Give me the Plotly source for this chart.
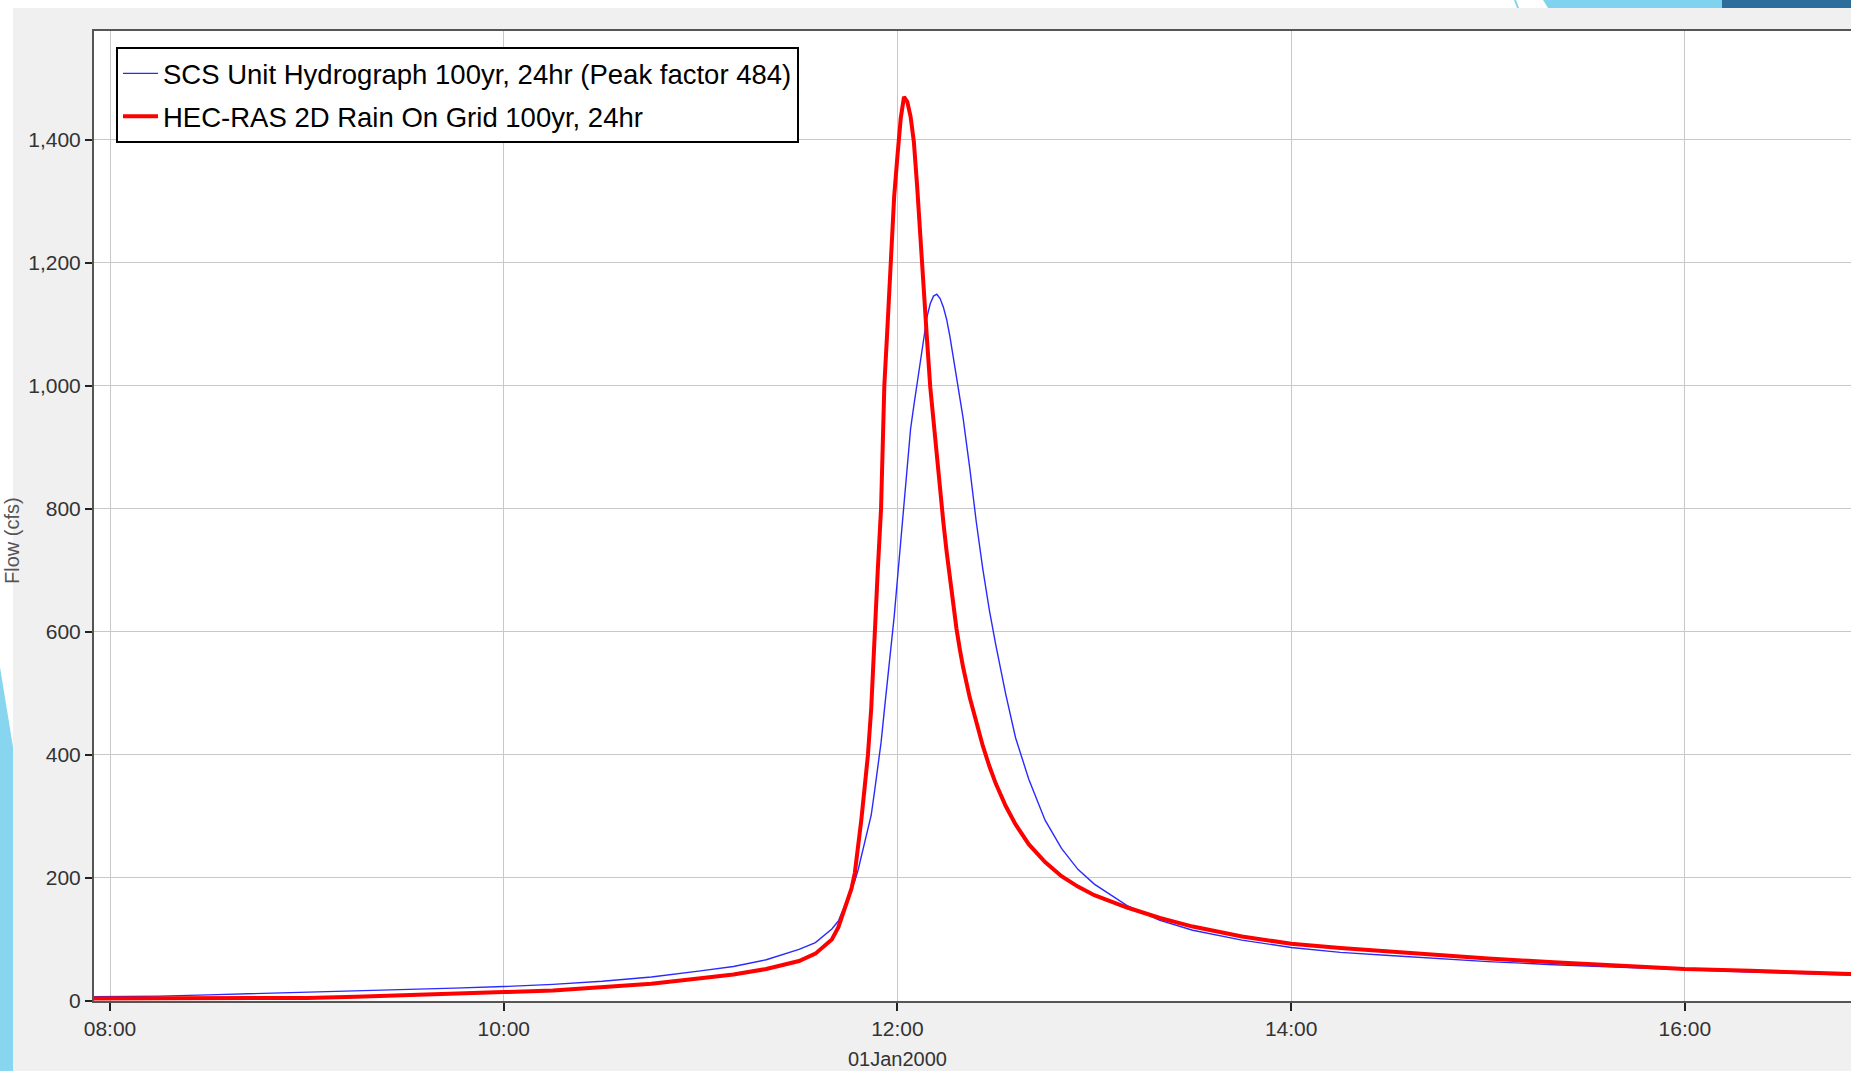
import plotly.graph_objects as go

# ---------------- data ----------------
DAY = "2000-01-01"
TIMES = ["07:55", "08:00", "08:15", "08:30", "08:45", "09:00", "09:15", "09:30", "09:45", "10:00",
         "10:15", "10:30", "10:45", "11:00", "11:10", "11:20", "11:30", "11:35", "11:40", "11:42",
         "11:44", "11:45", "11:46", "11:47", "11:48", "11:49", "11:50", "11:51", "11:52", "11:53",
         "11:54", "11:55", "11:56", "11:57", "11:58", "11:59", "12:00", "12:01", "12:02", "12:03",
         "12:04", "12:05", "12:06", "12:07", "12:08", "12:09", "12:10", "12:11", "12:12", "12:13",
         "12:14", "12:15", "12:16", "12:17", "12:18", "12:19", "12:20", "12:22", "12:24", "12:26",
         "12:28", "12:30", "12:33", "12:36", "12:40", "12:45", "12:50", "12:55", "13:00", "13:10",
         "13:20", "13:30", "13:45", "14:00", "14:15", "14:30", "14:45", "15:00", "15:20", "15:40",
         "16:00", "16:20", "16:40", "16:51"]

SCS_FLOW = [7, 7, 8, 10, 12, 14, 17, 19, 21, 23.5,
            27, 32, 39, 49, 56, 67, 84, 95, 117, 130,
            155, 170, 183, 195, 213, 235, 257, 280, 302, 340,
            380, 420, 472, 520, 570, 625, 686, 745, 803, 870,
            930, 968, 1005, 1044, 1080, 1112, 1134, 1146, 1149, 1142,
            1128, 1108, 1080, 1046, 1011, 979, 948, 868, 780, 703,
            636, 578, 499, 428, 361, 294, 248, 214, 190, 155,
            131, 115, 99, 87, 79, 74, 69, 64, 59, 55,
            50, 47, 44, 42]

RAS_FLOW = [4, 4, 4, 4, 4, 5, 7, 9, 12, 14.5,
            17, 22, 28, 37, 43, 52, 65, 77, 100, 120,
            151, 165, 183, 208, 250, 295, 347, 400, 475, 600,
            700, 800, 1000, 1100, 1200, 1308, 1374, 1435, 1470, 1462,
            1438, 1397, 1325, 1236, 1157, 1076, 998, 940, 885, 830,
            778, 730, 685, 643, 605, 572, 543, 494, 452, 415,
            382, 353, 317, 287, 255, 226, 203, 186, 172, 152,
            135, 121, 105, 93, 86, 80, 75, 69, 63, 58,
            52, 49, 46, 44]

SCS_NAME = "SCS Unit Hydrograph 100yr, 24hr (Peak factor 484)"
RAS_NAME = "HEC-RAS 2D Rain On Grid 100yr, 24hr"
Y_TICKS = [0, 200, 400, 600, 800, 1000, 1200, 1400]
X_RANGE = ["2000-01-01 07:55:07", "2000-01-01 16:50:38"]
Y_RANGE = [0, 1577]
DATE_LABEL = "01Jan2000"
Y_TITLE = "Flow (cfs)"

x_vals = [f"{DAY} {t}" for t in TIMES]

# ---------------- figure ----------------
W, H = 1851, 1071
L, R, T, B = 94, 0, 31, 70
PW, PH = W - L - R, H - T - B


def px_x(p):
    return (p - L) / PW


def px_y(p):
    return (H - B - p) / PH


fig = go.Figure()
fig.add_trace(go.Scatter(x=x_vals, y=SCS_FLOW, mode="lines", name=SCS_NAME,
                         legendgroup="a",
                         line=dict(color="#2a2aff", width=1.4)))
fig.add_trace(go.Scatter(x=x_vals, y=RAS_FLOW, mode="lines", name=RAS_NAME,
                         legendgroup="b",
                         line=dict(color="#ff0000", width=4)))

FONT = "Liberation Sans, Arial, sans-serif"

shapes = [
    # grey chart panel
    dict(type="rect", xref="paper", yref="paper", layer="below",
         x0=px_x(13), x1=px_x(W + 5), y0=px_y(H + 5), y1=px_y(8),
         fillcolor="#f0f0f0", line=dict(width=0)),
    # white plotting area
    dict(type="rect", xref="paper", yref="paper", layer="below",
         x0=0, x1=1, y0=0, y1=1, fillcolor="white", line=dict(width=0)),
    # left slide decoration
    dict(type="path", xref="paper", yref="paper", layer="below",
         path=f"M {px_x(0)} {px_y(667)} L {px_x(13)} {px_y(747)} L {px_x(13)} {px_y(H + 5)} "
              f"L {px_x(0)} {px_y(H + 5)} Z",
         fillcolor="#88d5ef", line=dict(width=0)),
    # top right slide decoration
    dict(type="path", xref="paper", yref="paper", layer="below",
         path=f"M {px_x(1543)} {px_y(0)} L {px_x(1722)} {px_y(0)} L {px_x(1722)} {px_y(8)} "
              f"L {px_x(1548)} {px_y(8)} Z",
         fillcolor="#7fd3ee", line=dict(width=0)),
    dict(type="path", xref="paper", yref="paper", layer="below",
         path=f"M {px_x(1514)} {px_y(0)} L {px_x(1516)} {px_y(0)} L {px_x(1519)} {px_y(8)} "
              f"L {px_x(1517)} {px_y(8)} Z",
         fillcolor="#7fd3ee", line=dict(width=0)),
    dict(type="rect", xref="paper", yref="paper", layer="below",
         x0=px_x(1722), x1=px_x(W + 5), y0=px_y(8), y1=px_y(-2),
         fillcolor="#2d6d9c", line=dict(width=0)),
]

annotations = [
    dict(text=DATE_LABEL, x=f"{DAY} 12:00", xref="x", y=px_y(1059), yref="paper",
         showarrow=False, xanchor="center", yanchor="middle",
         font=dict(family=FONT, size=20, color="#333")),
    dict(text=Y_TITLE, x=px_x(12), xref="paper", y=px_y(541), yref="paper",
         showarrow=False, xanchor="center", yanchor="middle", textangle=-90,
         font=dict(family=FONT, size=20, color="#555")),
]

fig.update_layout(
    width=W, height=H,
    margin=dict(l=L, r=R, t=T, b=B, pad=0),
    paper_bgcolor="white", plot_bgcolor="white",
    font=dict(family=FONT, size=21, color="#333"),
    showlegend=True,
    legend=dict(x=px_x(116), y=px_y(47), xanchor="left", yanchor="top",
                bgcolor="white", bordercolor="black", borderwidth=2,
                font=dict(family=FONT, size=27.5, color="black"),
                itemwidth=35, tracegroupgap=4),
    shapes=shapes,
    annotations=annotations,
    xaxis=dict(type="date", range=X_RANGE, tickformat="%H:%M",
               tick0=f"{DAY} 08:00", dtick=7200000,
               showgrid=True, gridcolor="#c8c8c8", gridwidth=1,
               showline=True, linecolor="#555", linewidth=2, mirror=True,
               ticks="outside", ticklen=8, tickwidth=1.5, tickcolor="#222",
               zeroline=False, tickfont=dict(family=FONT, size=21, color="#333")),
    yaxis=dict(range=Y_RANGE, tickvals=Y_TICKS, tickformat=",d",
               showgrid=True, gridcolor="#c8c8c8", gridwidth=1,
               showline=True, linecolor="#555", linewidth=2,
               ticks="outside", ticklen=7, tickwidth=1.5, tickcolor="#222",
               zeroline=False, tickfont=dict(family=FONT, size=21, color="#333")),
)

fig.write_html("out.html")
